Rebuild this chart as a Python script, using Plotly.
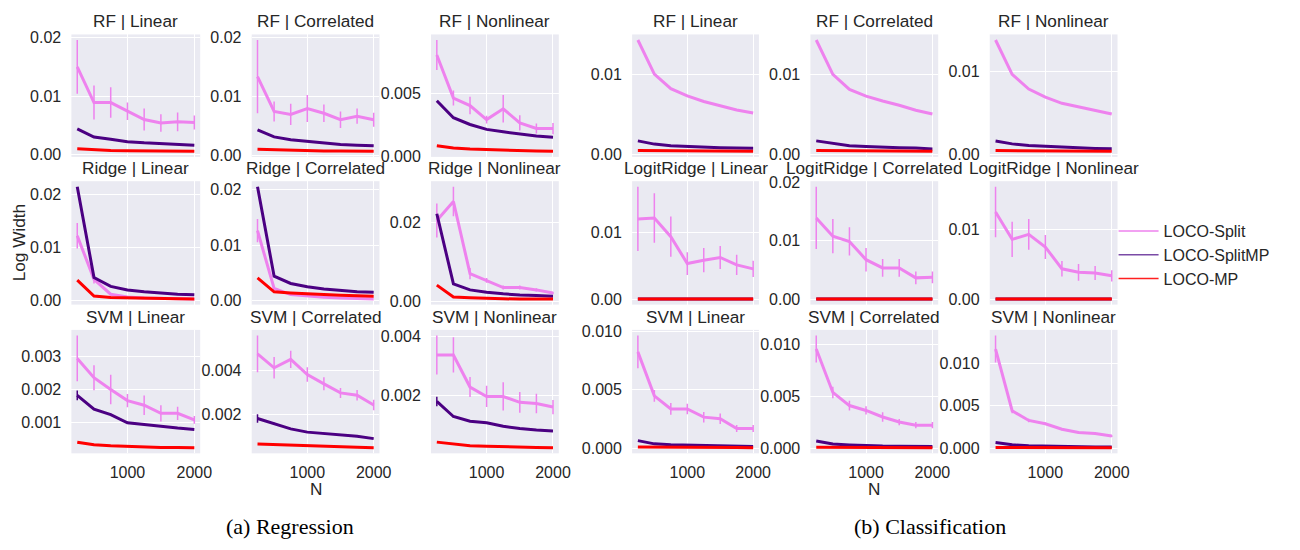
import plotly.graph_objects as go

N = [250, 500, 750, 1000, 1250, 1500, 1750, 2000]
ZERO = [0, 0, 0, 0, 0, 0, 0, 0]

# ---------------- Regression ----------------
reg_rf_linear_split = [0.0150, 0.0089, 0.0089, 0.0074, 0.0060, 0.0054, 0.0056, 0.0055]
reg_rf_linear_split_err = [0.0046, 0.0029, 0.0026, 0.0015, 0.0019, 0.0015, 0.0016, 0.0012]
reg_rf_linear_splitmp = [0.0044, 0.0030, 0.0026, 0.0022, 0.0020, 0.0019, 0.0017, 0.0016]
reg_rf_linear_mp = [0.0010, 0.0008, 0.0007, 0.00065, 0.0006, 0.0006, 0.00057, 0.00055]

reg_rf_corr_split = [0.0133, 0.0074, 0.0069, 0.0079, 0.0071, 0.0060, 0.0066, 0.0060]
reg_rf_corr_split_err = [0.0062, 0.0017, 0.0018, 0.0023, 0.0015, 0.0014, 0.0013, 0.0012]
reg_rf_corr_splitmp = [0.0043, 0.0031, 0.0026, 0.0023, 0.0020, 0.0018, 0.0017, 0.0016]
reg_rf_corr_mp = [0.0010, 0.0009, 0.0008, 0.00075, 0.0007, 0.0007, 0.00067, 0.00065]

reg_rf_nonlin_split = [0.00807, 0.00464, 0.00404, 0.00292, 0.00378, 0.00266, 0.00221, 0.00221]
reg_rf_nonlin_split_err = [0.0012, 0.0006, 0.0007, 0.0003, 0.0011, 0.0006, 0.0004, 0.00045]
reg_rf_nonlin_splitmp = [0.00443, 0.00307, 0.00253, 0.00214, 0.00195, 0.00177, 0.00161, 0.00151]
reg_rf_nonlin_mp = [0.00083, 0.00065, 0.00057, 0.00052, 0.00048, 0.00045, 0.00042, 0.00039]

reg_ridge_linear_split = [0.0122, 0.0040, 0.0012, 0.0007, 0.0005, 0.0004, 0.0004, 0.0003]
reg_ridge_linear_split_err = [0.0024, 0.0008, 0.0002, 0.0001, 0, 0, 0, 0]
reg_ridge_linear_splitmp = [0.0214, 0.00435, 0.00267, 0.0020, 0.00168, 0.0014, 0.0012, 0.0011]
reg_ridge_linear_mp = [0.00385, 0.00087, 0.0006, 0.0005, 0.00042, 0.00037, 0.00033, 0.0003]

reg_ridge_corr_split = [0.0126, 0.0022, 0.0011, 0.0008, 0.0006, 0.0005, 0.0004, 0.0003]
reg_ridge_corr_split_err = [0.0021, 0.0003, 0.0001, 0, 0, 0, 0, 0]
reg_ridge_corr_splitmp = [0.0205, 0.0044, 0.0031, 0.0025, 0.0021, 0.0018, 0.0016, 0.0015]
reg_ridge_corr_mp = [0.0041, 0.0016, 0.0014, 0.0012, 0.0011, 0.0010, 0.0009, 0.0008]

reg_ridge_nonlin_split = [0.0204, 0.0252, 0.0070, 0.0053, 0.0035, 0.0035, 0.0029, 0.0021]
reg_ridge_nonlin_split_err = [0.0043, 0.0037, 0.0014, 0.0006, 0.0005, 0.0005, 0.0004, 0.0003]
reg_ridge_nonlin_splitmp = [0.0221, 0.0044, 0.0029, 0.0023, 0.0019, 0.0016, 0.0015, 0.0013]
reg_ridge_nonlin_mp = [0.0041, 0.0011, 0.0009, 0.0007, 0.00065, 0.0006, 0.0006, 0.0006]

reg_svm_linear_split = [0.00295, 0.00236, 0.0020, 0.00166, 0.00152, 0.00127, 0.00127, 0.00107]
reg_svm_linear_split_err = [0.0007, 0.00038, 0.00045, 0.0002, 0.0003, 0.00025, 0.0002, 0.00012]
reg_svm_linear_splitmp = [0.00182, 0.0014, 0.00123, 0.00098, 0.00093, 0.00087, 0.00082, 0.00078]
reg_svm_linear_splitmp_err = [0.00015, 0.00003, 0.00003, 0, 0, 0, 0, 0]
reg_svm_linear_mp = [0.00039, 0.00031, 0.00028, 0.00026, 0.00025, 0.00023, 0.00023, 0.00022]

reg_svm_corr_split = [0.00478, 0.00414, 0.00453, 0.00383, 0.0034, 0.00298, 0.00287, 0.00242]
reg_svm_corr_split_err = [0.00085, 0.0005, 0.0004, 0.00034, 0.0003, 0.00023, 0.00024, 0.00024]
reg_svm_corr_splitmp = [0.0018, 0.00155, 0.00132, 0.00117, 0.0011, 0.00105, 0.00098, 0.00087]
reg_svm_corr_splitmp_err = [0.0002, 0.00005, 0.00004, 0, 0, 0, 0, 0]
reg_svm_corr_mp = [0.00062, 0.00059, 0.00056, 0.00053, 0.0005, 0.00048, 0.00047, 0.00045]

reg_svm_nonlin_split = [0.00338, 0.00338, 0.00229, 0.00197, 0.00197, 0.00177, 0.00173, 0.00161]
reg_svm_nonlin_split_err = [0.00066, 0.0006, 0.00034, 0.00036, 0.00048, 0.00035, 0.00033, 0.00024]
reg_svm_nonlin_splitmp = [0.0018, 0.00129, 0.00113, 0.00108, 0.00096, 0.00088, 0.00083, 0.0008]
reg_svm_nonlin_splitmp_err = [0.00016, 0.00003, 0, 0, 0, 0, 0, 0]
reg_svm_nonlin_mp = [0.00042, 0.00036, 0.0003, 0.00028, 0.00026, 0.00025, 0.00024, 0.00023]

# ---------------- Classification ----------------
cls_rf_linear_split = [0.01425, 0.0100, 0.0082, 0.00729, 0.0066, 0.00607, 0.00555, 0.00518]
cls_rf_linear_splitmp = [0.0017, 0.0013, 0.0011, 0.0010, 0.0009, 0.00085, 0.0008, 0.00077]
cls_rf_linear_mp = [0.0005, 0.00048, 0.00046, 0.00044, 0.00043, 0.00042, 0.00041, 0.0004]

cls_rf_corr_split = [0.01423, 0.00996, 0.0081, 0.00726, 0.00665, 0.00613, 0.0055, 0.00504]
cls_rf_corr_splitmp = [0.0017, 0.0014, 0.0011, 0.0010, 0.0009, 0.00085, 0.0008, 0.0007]
cls_rf_corr_mp = [0.0005, 0.00048, 0.00046, 0.00044, 0.00043, 0.00042, 0.00041, 0.0004]

cls_rf_nonlin_split = [0.01384, 0.00969, 0.00792, 0.00694, 0.0062, 0.00576, 0.00529, 0.0049]
cls_rf_nonlin_splitmp = [0.00165, 0.0013, 0.0011, 0.0010, 0.0009, 0.0008, 0.00075, 0.0007]
cls_rf_nonlin_mp = [0.0005, 0.00048, 0.00046, 0.00044, 0.00043, 0.00042, 0.00041, 0.0004]

cls_logit_linear_split = [0.01205, 0.0122, 0.0094, 0.0054, 0.0059, 0.0063, 0.0052, 0.0046]
cls_logit_linear_split_err = [0.0048, 0.0037, 0.0030, 0.0017, 0.0018, 0.0017, 0.0015, 0.0012]
cls_logit_linear_splitmp = [0.0001, 0.0001, 0.0001, 0.0001, 0.0001, 0.0001, 0.0001, 0.0001]
cls_logit_linear_mp = [0.0001, 0.0001, 0.0001, 0.0001, 0.0001, 0.0001, 0.0001, 0.0001]

cls_logit_corr_split = [0.0139, 0.0108, 0.0099, 0.0068, 0.0054, 0.0054, 0.0037, 0.0038]
cls_logit_corr_split_err = [0.0053, 0.0029, 0.0024, 0.0020, 0.0015, 0.0015, 0.0011, 0.0010]
cls_logit_corr_splitmp = [0.0001, 0.0001, 0.0001, 0.0001, 0.0001, 0.0001, 0.0001, 0.0001]
cls_logit_corr_mp = [0.0001, 0.0001, 0.0001, 0.0001, 0.0001, 0.0001, 0.0001, 0.0001]

cls_logit_nonlin_split = [0.01248, 0.0086, 0.0093, 0.0075, 0.0044, 0.0039, 0.0038, 0.0034]
cls_logit_nonlin_split_err = [0.0036, 0.0025, 0.0022, 0.0017, 0.0011, 0.0012, 0.0010, 0.0008]
cls_logit_nonlin_splitmp = [0.0001, 0.0001, 0.0001, 0.0001, 0.0001, 0.0001, 0.0001, 0.0001]
cls_logit_nonlin_mp = [0.0001, 0.0001, 0.0001, 0.0001, 0.0001, 0.0001, 0.0001, 0.0001]

cls_svm_linear_split = [0.00824, 0.00447, 0.00335, 0.00335, 0.00265, 0.00251, 0.00168, 0.00168]
cls_svm_linear_split_err = [0.0014, 0.0005, 0.0005, 0.00045, 0.00045, 0.00045, 0.0003, 0.0003]
cls_svm_linear_splitmp = [0.00064, 0.00036, 0.00028, 0.00024, 0.0002, 0.00018, 0.00016, 0.00014]
cls_svm_linear_mp = [0.0001, 0.0001, 0.00008, 0.00007, 0.00006, 0.00005, 0.00004, 0.00003]

cls_svm_corr_split = [0.00953, 0.00536, 0.0041, 0.00363, 0.0030, 0.00252, 0.00221, 0.00221]
cls_svm_corr_split_err = [0.0013, 0.00055, 0.00047, 0.0004, 0.00045, 0.0003, 0.0003, 0.0003]
cls_svm_corr_splitmp = [0.0007, 0.00041, 0.00032, 0.00025, 0.00021, 0.00019, 0.00017, 0.00016]
cls_svm_corr_mp = [0.0001, 0.0001, 0.00009, 0.00008, 0.00007, 0.00006, 0.00005, 0.00005]

cls_svm_nonlin_split = [0.01173, 0.00442, 0.00327, 0.00288, 0.00223, 0.00185, 0.00173, 0.00142]
cls_svm_nonlin_split_err = [0.0016, 0.0003, 0.0002, 0.00015, 0.00012, 0.0001, 0.0001, 0.0001]
cls_svm_nonlin_splitmp = [0.00065, 0.00038, 0.00028, 0.00022, 0.00018, 0.00015, 0.00013, 0.00012]
cls_svm_nonlin_mp = [0.00008, 0.00008, 0.00007, 0.00006, 0.00005, 0.00005, 0.00004, 0.00004]

# ---------------- tick labels ----------------
x_ticks = [1000, 2000]
x_tick_labels = ["1000", "2000"]
yt_rf_reg = ["0.00", "0.01", "0.02"]
yt_rf_reg_nonlin = ["0.000", "0.005"]
yt_rf_cls = ["0.00", "0.01"]
yt_ridge_reg = ["0.00", "0.01", "0.02"]
yt_ridge_reg_nonlin = ["0.00", "0.02"]
yt_logit_lin = ["0.00", "0.01"]
yt_logit_corr = ["0.00", "0.01", "0.02"]
yt_logit_nonlin = ["0.00", "0.01"]
yt_svm_reg_lin = ["0.001", "0.002", "0.003"]
yt_svm_reg_other = ["0.002", "0.004"]
yt_svm_cls = ["0.000", "0.005", "0.010"]

titles_row1 = ["RF | Linear", "RF | Correlated", "RF | Nonlinear"] * 2
titles_row2 = ["Ridge | Linear", "Ridge | Correlated", "Ridge | Nonlinear",
               "LogitRidge | Linear", "LogitRidge | Correlated", "LogitRidge | Nonlinear"]
titles_row3 = ["SVM | Linear", "SVM | Correlated", "SVM | Nonlinear"] * 2

method_names = ["LOCO-Split", "LOCO-SplitMP", "LOCO-MP"]
method_colors = ["#EE82EE", "#4B0082", "#FF0000"]
legend_colors = ["#EE82EE", "#7A4BA6", "#FF2020"]

panels = [
    (titles_row1[0], reg_rf_linear_split, reg_rf_linear_split_err, reg_rf_linear_splitmp, ZERO, reg_rf_linear_mp, yt_rf_reg),
    (titles_row1[1], reg_rf_corr_split, reg_rf_corr_split_err, reg_rf_corr_splitmp, ZERO, reg_rf_corr_mp, yt_rf_reg),
    (titles_row1[2], reg_rf_nonlin_split, reg_rf_nonlin_split_err, reg_rf_nonlin_splitmp, ZERO, reg_rf_nonlin_mp, yt_rf_reg_nonlin),
    (titles_row1[3], cls_rf_linear_split, ZERO, cls_rf_linear_splitmp, ZERO, cls_rf_linear_mp, yt_rf_cls),
    (titles_row1[4], cls_rf_corr_split, ZERO, cls_rf_corr_splitmp, ZERO, cls_rf_corr_mp, yt_rf_cls),
    (titles_row1[5], cls_rf_nonlin_split, ZERO, cls_rf_nonlin_splitmp, ZERO, cls_rf_nonlin_mp, yt_rf_cls),
    (titles_row2[0], reg_ridge_linear_split, reg_ridge_linear_split_err, reg_ridge_linear_splitmp, ZERO, reg_ridge_linear_mp, yt_ridge_reg),
    (titles_row2[1], reg_ridge_corr_split, reg_ridge_corr_split_err, reg_ridge_corr_splitmp, ZERO, reg_ridge_corr_mp, yt_ridge_reg),
    (titles_row2[2], reg_ridge_nonlin_split, reg_ridge_nonlin_split_err, reg_ridge_nonlin_splitmp, ZERO, reg_ridge_nonlin_mp, yt_ridge_reg_nonlin),
    (titles_row2[3], cls_logit_linear_split, cls_logit_linear_split_err, cls_logit_linear_splitmp, ZERO, cls_logit_linear_mp, yt_logit_lin),
    (titles_row2[4], cls_logit_corr_split, cls_logit_corr_split_err, cls_logit_corr_splitmp, ZERO, cls_logit_corr_mp, yt_logit_corr),
    (titles_row2[5], cls_logit_nonlin_split, cls_logit_nonlin_split_err, cls_logit_nonlin_splitmp, ZERO, cls_logit_nonlin_mp, yt_logit_nonlin),
    (titles_row3[0], reg_svm_linear_split, reg_svm_linear_split_err, reg_svm_linear_splitmp, reg_svm_linear_splitmp_err, reg_svm_linear_mp, yt_svm_reg_lin),
    (titles_row3[1], reg_svm_corr_split, reg_svm_corr_split_err, reg_svm_corr_splitmp, reg_svm_corr_splitmp_err, reg_svm_corr_mp, yt_svm_reg_other),
    (titles_row3[2], reg_svm_nonlin_split, reg_svm_nonlin_split_err, reg_svm_nonlin_splitmp, reg_svm_nonlin_splitmp_err, reg_svm_nonlin_mp, yt_svm_reg_other),
    (titles_row3[3], cls_svm_linear_split, cls_svm_linear_split_err, cls_svm_linear_splitmp, ZERO, cls_svm_linear_mp, yt_svm_cls),
    (titles_row3[4], cls_svm_corr_split, cls_svm_corr_split_err, cls_svm_corr_splitmp, ZERO, cls_svm_corr_mp, yt_svm_cls),
    (titles_row3[5], cls_svm_nonlin_split, cls_svm_nonlin_split_err, cls_svm_nonlin_splitmp, ZERO, cls_svm_nonlin_mp, yt_svm_cls),
]

# ---------------- layout geometry ----------------
# The page body has an 8px margin, so the figure is sized to fit inside the
# 1300x550 window and all positions are given in window pixels minus 8.
OFF = 8
W, H = 1300 - 2 * OFF, 550 - 2 * OFF
col_px = [(72, 202), (254, 383), (435, 564), (638, 766), (818, 947), (999, 1128)]
row_px = [(28, 154), (179, 306), (332, 459)]


def px(x):
    return (x - OFF) / W


def py(y):
    return 1 - (y - OFF) / H


FONT = "Liberation Sans, Arial, sans-serif"
TICK_SIZE = 16
TITLE_SIZE = 17.2

fig = go.Figure()
layout = dict(
    width=W, height=H,
    margin=dict(l=0, r=0, t=0, b=0),
    paper_bgcolor="white",
    plot_bgcolor="#EAEAF2",
    font=dict(family=FONT, size=TICK_SIZE, color="#262626"),
    showlegend=True,
)
annotations = []

x_lo, x_hi = min(N), max(N)
x_pad = 0.05 * (x_hi - x_lo)

for i, (title, split, split_err, smp, smp_err, mp, yt) in enumerate(panels):
    r, c = divmod(i, 6)
    k = i + 1
    xs = "x" if k == 1 else f"x{k}"
    ys = "y" if k == 1 else f"y{k}"
    xa = "xaxis" if k == 1 else f"xaxis{k}"
    ya = "yaxis" if k == 1 else f"yaxis{k}"

    series = [(split, split_err), (smp, smp_err), (mp, ZERO)]
    for m, (vals, errs) in enumerate(series):
        tr = dict(
            x=N, y=vals, mode="lines", xaxis=xs, yaxis=ys,
            line=dict(color=method_colors[m], width=3),
            showlegend=False, hoverinfo="skip",
        )
        if any(e > 0 for e in errs):
            tr["error_y"] = dict(type="data", array=errs, visible=True,
                                 color=method_colors[m], thickness=1.5, width=0)
        fig.add_trace(go.Scatter(**tr))

    lows = [v - e for s, es in series for v, e in zip(s, es)]
    highs = [v + e for s, es in series for v, e in zip(s, es)]
    lo, hi = min(lows), max(highs)
    pad = 0.05 * (hi - lo)

    x0, x1 = col_px[c]
    y0, y1 = row_px[r]
    layout[xa] = dict(
        domain=[px(x0), px(x1)], anchor=ys,
        range=[x_lo - x_pad, x_hi + x_pad],
        tickvals=x_ticks, ticktext=x_tick_labels,
        showticklabels=(r == 2),
        showgrid=True, gridcolor="white", gridwidth=1.3,
        zeroline=False, showline=False,
        ticks="outside", ticklen=4, tickcolor="rgba(0,0,0,0)",
        tickfont=dict(size=TICK_SIZE, family=FONT, color="#262626"),
    )
    layout[ya] = dict(
        domain=[py(y1), py(y0)], anchor=xs,
        range=[lo - pad, hi + pad],
        tickvals=[float(t) for t in yt], ticktext=yt,
        showgrid=True, gridcolor="white", gridwidth=1.3,
        zeroline=False, showline=False,
        ticks="outside", ticklen=6, tickcolor="rgba(0,0,0,0)",
        tickfont=dict(size=TICK_SIZE, family=FONT, color="#262626"),
    )
    annotations.append(dict(
        text=title, x=px((x0 + x1) / 2), y=py(y0),
        xref="paper", yref="paper", xanchor="center", yanchor="bottom",
        yshift=1, showarrow=False,
        font=dict(size=TITLE_SIZE, family=FONT, color="#262626"),
    ))

for m in range(3):
    fig.add_trace(go.Scatter(
        x=[None], y=[None], mode="lines", name=method_names[m],
        line=dict(color=legend_colors[m], width=1.6), showlegend=True,
    ))

layout["legend"] = dict(
    x=px(1124), y=py(255), xanchor="left", yanchor="middle",
    bgcolor="rgba(0,0,0,0)", borderwidth=0,
    font=dict(size=16, family=FONT, color="#262626"),
    tracegroupgap=0, itemwidth=40,
)

annotations.append(dict(text="Log Width", x=px(20), y=py(242), xref="paper", yref="paper",
                        textangle=-90, showarrow=False, xanchor="center", yanchor="middle",
                        font=dict(size=TITLE_SIZE, family=FONT, color="#262626")))
for cx in [(254 + 383) / 2, (818 + 947) / 2]:
    annotations.append(dict(text="N", x=px(cx), y=py(496), xref="paper", yref="paper",
                            showarrow=False, xanchor="center", yanchor="middle",
                            font=dict(size=TITLE_SIZE, family=FONT, color="#262626")))

SERIF = "Liberation Serif, Times New Roman, serif"
annotations.append(dict(text="(a) Regression", x=px(293), y=py(534), xref="paper", yref="paper",
                        showarrow=False, xanchor="center", yanchor="middle",
                        font=dict(size=22, family=SERIF, color="black")))
annotations.append(dict(text="(b) Classification", x=px(939), y=py(534), xref="paper", yref="paper",
                        showarrow=False, xanchor="center", yanchor="middle",
                        font=dict(size=22, family=SERIF, color="black")))

layout["annotations"] = annotations
fig.update_layout(**layout)
fig.write_html("out.html")
